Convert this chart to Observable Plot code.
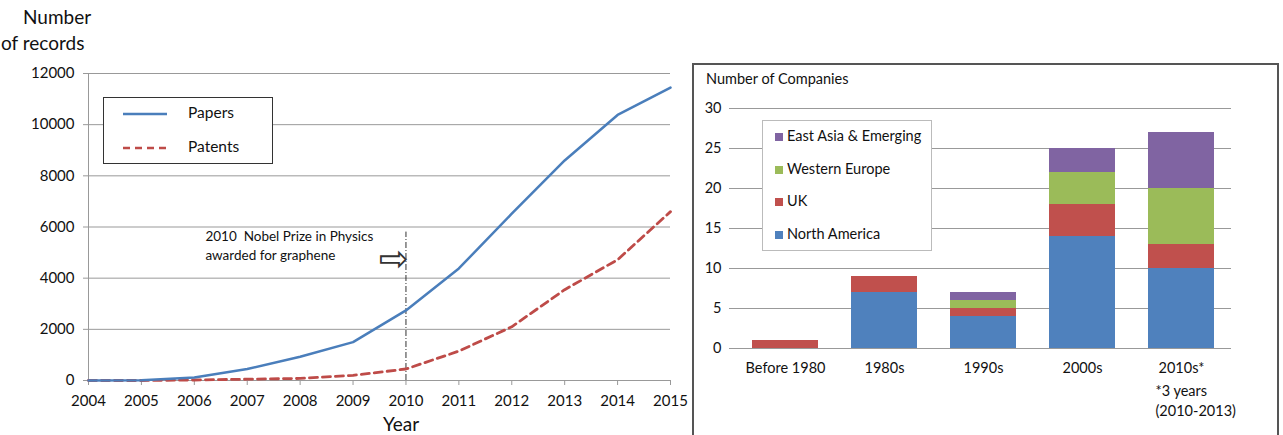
<!DOCTYPE html>
<html>
<head>
<meta charset="utf-8">
<script src="https://cdn.jsdelivr.net/npm/d3@7"></script>
<script src="https://cdn.jsdelivr.net/npm/@observablehq/plot@0.6"></script>
<style>
  html, body { margin: 0; padding: 0; background: #fff; }
  #root { position: relative; width: 1283px; height: 435px; overflow: hidden; font-family: Lato, "Open Sans", sans-serif; color: #111; }
  .abs { position: absolute; }
  #left { left: 0; top: 0; }
  #rightBox { left: 692px; top: 63px; width: 587px; height: 390px; border: 2px solid #555; box-sizing: border-box; }
  #right { left: 692px; top: 63px; }
  .lg { position: absolute; background: #fff; }
  .lgItem { position: absolute; font-size: 14.5px; white-space: nowrap; }
  .sq { display: inline-block; width: 8px; height: 8px; margin-right: 4px; vertical-align: 0px; }
</style>
</head>
<body>
<div id="root">
  <div class="abs" style="left:23px;top:5px;font-size:19px;">Number</div>
  <div class="abs" style="left:1px;top:31px;font-size:19px;">of records</div>
  <div class="abs" id="left"></div>
  <div class="abs" style="left:383px;top:412px;font-size:19px;">Year</div>
  <div class="abs lg" style="left:103px;top:97px;width:170px;height:67px;border:1.5px solid #333;box-sizing:border-box;">
    <svg width="170" height="67" style="position:absolute;left:0;top:0;">
      <line x1="19" x2="63" y1="16" y2="16" stroke="#4a7ebb" stroke-width="2.5"/>
      <line x1="19" x2="63" y1="50" y2="50" stroke="#be4b48" stroke-width="2.5" stroke-dasharray="7,5"/>
    </svg>
    <div class="lgItem" style="left:84px;top:5px;font-size:15.5px;">Papers</div>
    <div class="lgItem" style="left:84px;top:39px;font-size:15.5px;">Patents</div>
  </div>
  <div class="abs" id="rightBox"></div>
  <div class="abs" id="right"></div>
  <div class="abs" style="left:706px;top:70px;font-size:14.5px;">Number of Companies</div>
  <div class="abs lg" id="barLegend" style="left:762px;top:120px;width:170px;height:131px;border:1px solid #bbb;box-sizing:border-box;"></div>
</div>
<script>
// ---- Left chart data ----
const years = [2004, 2005, 2006, 2007, 2008, 2009, 2010, 2011, 2012, 2013, 2014, 2015];
const papers = [0, 10, 120, 450, 930, 1500, 2740, 4380, 6520, 8600, 10380, 11450];
const patents = [0, 0, 20, 50, 80, 200, 450, 1150, 2100, 3550, 4720, 6600];
const recordTicks = [0, 2000, 4000, 6000, 8000, 10000, 12000];
const nobelYear = 2010;
const nobelText = "2010  Nobel Prize in Physics\nawarded for graphene";

// ---- Right chart data ----
const periods = ["Before 1980", "1980s", "1990s", "2000s", "2010s*"];
const regions = ["North America", "UK", "Western Europe", "East Asia & Emerging"];
const northAmerica = [0, 7, 4, 14, 10];
const uk = [1, 2, 1, 4, 3];
const westernEurope = [0, 0, 1, 4, 7];
const eastAsia = [0, 0, 1, 3, 7];
const regionColors = ["#4f81bd", "#c0504d", "#9bbb59", "#8064a2"];
const companyTicks = [0, 5, 10, 15, 20, 25, 30];
const footnote = "*3 years\n(2010-2013)";

const paperRows = years.map((y, i) => ({year: y, value: papers[i]}));
const patentRows = years.map((y, i) => ({year: y, value: patents[i]}));

const left = Plot.plot({
  width: 690, height: 435,
  marginLeft: 88, marginRight: 20, marginTop: 73, marginBottom: 55,
  style: {fontFamily: "Lato, 'Open Sans', sans-serif", fontSize: "15px", color: "#111", background: "transparent"},
  x: {domain: [2004, 2015]},
  y: {domain: [0, 12000]},
  marks: [
    Plot.gridY(recordTicks, {stroke: "#999", strokeOpacity: 1}),
    Plot.ruleX([2004], {stroke: "#999"}),
    Plot.ruleY([0], {stroke: "#999"}),
    Plot.axisY(recordTicks, {tickSize: 5, tickPadding: 9, stroke: "#999", label: null, fontSize: 15, tickFormat: d => String(d)}),
    Plot.axisX(years, {tickSize: 5, tickPadding: 10, stroke: "#999", tickFormat: d => String(d), label: null, fontSize: 15}),
    Plot.ruleX([nobelYear], {y1: 0, y2: 5800, stroke: "#333", strokeWidth: 1, strokeDasharray: "6,2,1,2"}),
    Plot.text([nobelText], {x: 2006.21, y: 5320, text: d => d, textAnchor: "start", lineAnchor: "middle", lineHeight: 1.4, fontSize: 13.5, fill: "#111"}),
    Plot.text(["⇨"], {x: 2009.77, y: 4720, text: d => d, fontSize: 36, fill: "#333", fontFamily: "DejaVu Sans"}),
    Plot.line(patentRows, {x: "year", y: "value", stroke: "#be4b48", strokeWidth: 2.8, strokeDasharray: "8,5"}),
    Plot.line(paperRows, {x: "year", y: "value", stroke: "#4a7ebb", strokeWidth: 2.5})
  ]
});
document.getElementById("left").appendChild(left);

const series = [northAmerica, uk, westernEurope, eastAsia];
const barRows = [];
regions.forEach((r, j) => periods.forEach((p, i) => barRows.push({period: p, region: r, value: series[j][i]})));

const right = Plot.plot({
  width: 587, height: 372,
  marginLeft: 42, marginRight: 48, marginTop: 45, marginBottom: 87,
  style: {fontFamily: "Lato, 'Open Sans', sans-serif", fontSize: "14.5px", color: "#111", background: "transparent"},
  x: {domain: periods, paddingInner: 0.335, paddingOuter: 0.17},
  y: {domain: [0, 30]},
  color: {domain: regions, range: regionColors},
  marks: [
    Plot.gridY(companyTicks, {stroke: "#999", strokeOpacity: 1}),
    Plot.ruleY([0], {stroke: "#999"}),
    Plot.axisY(companyTicks, {tickSize: 5, tickPadding: 8, stroke: "#999", label: null, fontSize: 14.5}),
    Plot.axisX({tickSize: 0, tickPadding: 14, label: null, fontSize: 14.5}),
    Plot.barY(barRows, {x: "period", y: "value", fill: "region", order: regions}),
    Plot.text([footnote], {x: () => "2010s*", frameAnchor: "bottom", dy: 34, dx: -26, text: d => d, textAnchor: "start", lineAnchor: "top", lineHeight: 1.35, fontSize: 14.5, fill: "#111"})
  ]
});
document.getElementById("right").appendChild(right);

// legend (top to bottom: reverse of stack order)
const lg = document.getElementById("barLegend");
[...regions].reverse().forEach((r, k) => {
  const c = regionColors[regions.indexOf(r)];
  const d = document.createElement("div");
  d.className = "lgItem";
  d.style.left = "12px";
  d.style.top = (6 + k * 32.7) + "px";
  d.innerHTML = `<span class="sq" style="background:${c}"></span>${r}`;
  lg.appendChild(d);
});
</script>
</body>
</html>
